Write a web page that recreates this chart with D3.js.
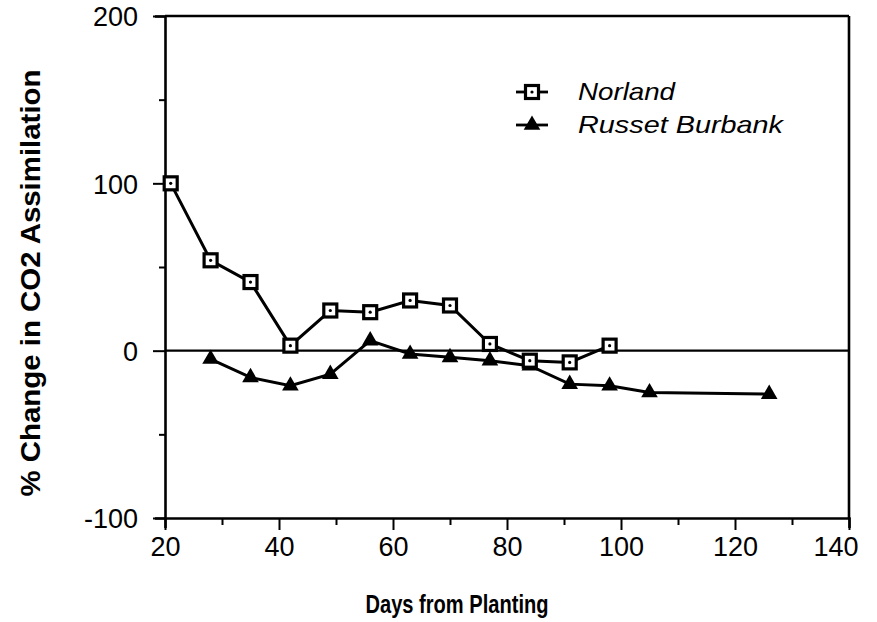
<!DOCTYPE html>
<html><head><meta charset="utf-8">
<script src="https://cdn.jsdelivr.net/npm/d3@7"></script>
<style>body{margin:0;background:#fff}svg{display:block}</style>
</head><body>
<svg id="c" width="877" height="622"></svg>
<script>
const norlandDays = [21, 28, 35, 42, 49, 56, 63, 70, 77, 84, 91, 98];
const norlandValues = [100, 54, 41, 3, 24, 23, 30, 27, 4, -6, -7, 3];
const russetDays = [28, 35, 42, 49, 56, 63, 70, 77, 84, 91, 98, 105, 126];
const russetValues = [-5, -16, -21, -14, 6, -2, -4, -6, -9, -20, -21, -25, -26];
const xTicks = [20, 40, 60, 80, 100, 120, 140];
const yTicks = [-100, 0, 100, 200];
const seriesNames = ["Norland", "Russet Burbank"];

const svg = d3.select("#c");
const L = 165, R = 849, T = 16, B = 518;
const x = d3.scaleLinear().domain([20, 140]).range([L, R]);
const y = d3.scaleLinear().domain([-100, 200]).range([B, T]);
const font = "'Liberation Sans', Arial, Helvetica, sans-serif";
const sw = 2.6;

// frame
svg.append("line").attr("x1", L).attr("x2", R).attr("y1", T).attr("y2", T).attr("stroke", "#000").attr("stroke-width", sw);
svg.append("line").attr("x1", R).attr("x2", R).attr("y1", T).attr("y2", B).attr("stroke", "#000").attr("stroke-width", sw);

// x axis
const xAxis = svg.append("g").attr("transform", `translate(0,${B})`)
  .call(d3.axisBottom(x).tickValues(d3.range(20, 141, 10)).tickSize(10).tickFormat(d => xTicks.includes(d) ? d : ""));
xAxis.select(".domain").attr("stroke-width", sw);
xAxis.selectAll(".tick line").attr("stroke-width", 2).attr("y2", d => d % 20 === 0 ? 12 : 7);
xAxis.selectAll(".tick text").attr("font-family", font).attr("font-size", 27).attr("y", 16).attr("dy", "0.8em").attr("fill", "#000")
  .attr("text-anchor", d => d === 140 ? "end" : "middle").attr("x", d => d === 140 ? 9 : 0);

// y axis
const yAxis = svg.append("g").attr("transform", `translate(${L},0)`)
  .call(d3.axisLeft(y).tickValues(d3.range(-100, 201, 50)).tickSize(10).tickFormat(d => yTicks.includes(d) ? d : ""));
yAxis.select(".domain").attr("stroke-width", sw);
yAxis.selectAll(".tick line").attr("stroke-width", 2).attr("x2", d => d % 100 === 0 ? -12 : -6);
yAxis.selectAll(".tick text").attr("font-family", font).attr("font-size", 27).attr("x", -27).attr("dy", "0.36em").attr("fill", "#000");

// zero line
svg.append("line").attr("x1", L).attr("x2", R).attr("y1", y(0)).attr("y2", y(0)).attr("stroke", "#000").attr("stroke-width", 2.2);

const line = d3.line().x(d => x(d[0])).y(d => y(d[1]));
const nData = norlandDays.map((d, i) => [d, norlandValues[i]]);
const rData = russetDays.map((d, i) => [d, russetValues[i]]);

svg.append("path").datum(rData).attr("d", line).attr("fill", "none").attr("stroke", "#000").attr("stroke-width", 3);
svg.append("path").datum(nData).attr("d", line).attr("fill", "none").attr("stroke", "#000").attr("stroke-width", 3);

const tri = d3.symbol().type(d3.symbolTriangle).size(120);
function drawTri(g, cx, cy) {
  g.append("path").attr("d", tri()).attr("transform", `translate(${cx},${cy})`).attr("fill", "#000");
}
function drawSq(g, cx, cy) {
  g.append("rect").attr("x", cx - 6.5).attr("y", cy - 6.5).attr("width", 13).attr("height", 13)
    .attr("fill", "#fff").attr("stroke", "#000").attr("stroke-width", 3.2);
  g.append("circle").attr("cx", cx).attr("cy", cy).attr("r", 1.6).attr("fill", "#000");
}
const mk = svg.append("g");
rData.forEach(d => drawTri(mk, x(d[0]), y(d[1])));
nData.forEach(d => drawSq(mk, x(d[0]), y(d[1])));

// legend
const lg = svg.append("g");
const legY = [92, 125];
lg.append("line").attr("x1", 516).attr("x2", 548).attr("y1", legY[0]).attr("y2", legY[0]).attr("stroke", "#000").attr("stroke-width", 2.8);
drawSq(lg, 532, legY[0]);
lg.append("line").attr("x1", 516).attr("x2", 548).attr("y1", legY[1]).attr("y2", legY[1]).attr("stroke", "#000").attr("stroke-width", 2.8);
drawTri(lg, 532, legY[1]);
lg.append("text").attr("x", 578).attr("y", legY[0] + 8).attr("font-family", font).attr("font-style", "italic").attr("font-size", 24)
  .attr("textLength", 97).attr("lengthAdjust", "spacingAndGlyphs").text(seriesNames[0]);
lg.append("text").attr("x", 578).attr("y", legY[1] + 8).attr("font-family", font).attr("font-style", "italic").attr("font-size", 24)
  .attr("textLength", 205).attr("lengthAdjust", "spacingAndGlyphs").text(seriesNames[1]);

// titles
svg.append("text").attr("x", 457).attr("y", 613).attr("text-anchor", "middle").attr("font-family", font)
  .attr("font-weight", "bold").attr("font-size", 26).attr("textLength", 183).attr("lengthAdjust", "spacingAndGlyphs").text("Days from Planting");
svg.append("text").attr("transform", `translate(40,283) rotate(-90)`).attr("text-anchor", "middle").attr("font-family", font)
  .attr("font-weight", "bold").attr("font-size", 27).attr("textLength", 427).attr("lengthAdjust", "spacingAndGlyphs").text("% Change in CO2 Assimilation");
</script>
</body></html>
